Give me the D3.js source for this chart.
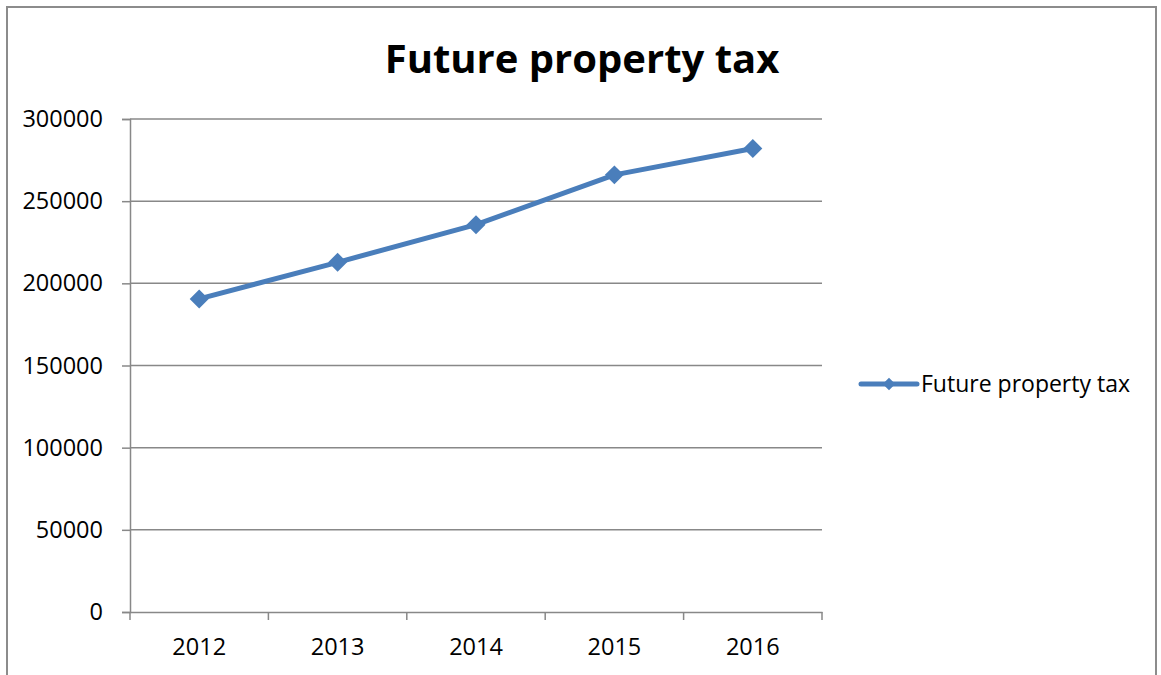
<!DOCTYPE html>
<html>
<head>
<meta charset="utf-8">
<script src="https://cdn.jsdelivr.net/npm/d3@7"></script>
<style>
  html, body { margin: 0; padding: 0; background: #fff; }
  svg { display: block; }
  text { font-family: "Open Sans", "Liberation Sans", sans-serif; fill: #000; }
</style>
</head>
<body>
<svg id="chart" width="1161" height="675"></svg>
<script>
// Yearly forecast of property tax
const years = ["2012", "2013", "2014", "2015", "2016"];
const taxValues = [190500, 212800, 235700, 266000, 282000];
const yTicks = [0, 50000, 100000, 150000, 200000, 250000, 300000];
const seriesName = "Future property tax";
const chartTitle = "Future property tax";

const svg = d3.select("#chart");
const plot = { left: 130, right: 822, top: 119, bottom: 612 };
const blue = "#4a7ebb";
const gridColor = "#888888";

// outer frame
svg.append("rect")
  .attr("x", 7).attr("y", 7)
  .attr("width", 1149).attr("height", 690)
  .attr("fill", "none").attr("stroke", "#8c8c8c").attr("stroke-width", 2);

const x = d3.scaleBand().domain(years).range([plot.left, plot.right]).padding(0);
const y = d3.scaleLinear().domain([0, 300000]).range([plot.bottom, plot.top]);

// horizontal gridlines
svg.append("g")
  .selectAll("line")
  .data(yTicks.filter(d => d > 0))
  .join("line")
  .attr("x1", plot.left).attr("x2", plot.right)
  .attr("y1", d => y(d)).attr("y2", d => y(d))
  .attr("stroke", gridColor).attr("stroke-width", 1.5);

// y axis
const yAxis = svg.append("g")
  .attr("transform", `translate(${plot.left},0)`)
  .call(d3.axisLeft(y).tickValues(yTicks).tickSize(8).tickPadding(19).tickFormat(d3.format("d")));
yAxis.select(".domain").attr("stroke", gridColor).attr("stroke-width", 1.5);
yAxis.selectAll(".tick line").attr("stroke", gridColor).attr("stroke-width", 1.5);
yAxis.selectAll(".tick text")
  .style("font-family", '"Open Sans", "Liberation Sans", sans-serif')
  .style("font-size", "23.5px").attr("fill", "#000");

// x axis with ticks at category boundaries
const xAxis = svg.append("g")
  .attr("transform", `translate(0,${plot.bottom})`)
  .call(d3.axisBottom(x).tickSize(0).tickPadding(26));
xAxis.select(".domain").attr("stroke", gridColor).attr("stroke-width", 1.5);
xAxis.selectAll(".tick text")
  .style("font-family", '"Open Sans", "Liberation Sans", sans-serif')
  .style("font-size", "23.5px").attr("fill", "#000");
const bounds = years.map(d => x(d)).concat([x(years[years.length - 1]) + x.bandwidth()]);
xAxis.selectAll(".bound")
  .data(bounds)
  .join("line")
  .attr("class", "bound")
  .attr("x1", d => d).attr("x2", d => d)
  .attr("y1", 0).attr("y2", 8)
  .attr("stroke", gridColor).attr("stroke-width", 1.5);

// series line
const cx = d => x(d) + x.bandwidth() / 2;
const line = d3.line().x((d, i) => cx(years[i])).y(d => y(d));
svg.append("path")
  .datum(taxValues)
  .attr("d", line)
  .attr("fill", "none")
  .attr("stroke", blue)
  .attr("stroke-width", 5)
  .attr("stroke-linejoin", "round");

// diamond markers
const diamond = d3.symbol().type(d3.symbolDiamond2).size(230);
svg.append("g")
  .selectAll("path")
  .data(taxValues)
  .join("path")
  .attr("d", diamond)
  .attr("transform", (d, i) => `translate(${cx(years[i])},${y(d)})`)
  .attr("fill", blue);

// title
svg.append("text")
  .attr("x", 582).attr("y", 73)
  .attr("text-anchor", "middle")
  .style("font-size", "40px").style("font-weight", "bold")
  .text(chartTitle);

// legend
const lg = svg.append("g").attr("transform", "translate(861,384)");
lg.append("line")
  .attr("x1", 0).attr("x2", 56).attr("y1", 0).attr("y2", 0)
  .attr("stroke", blue).attr("stroke-width", 5).attr("stroke-linecap", "round");
lg.append("path")
  .attr("d", d3.symbol().type(d3.symbolDiamond2).size(100))
  .attr("transform", "translate(28,0)")
  .attr("fill", blue);
lg.append("text")
  .attr("x", 60).attr("y", 8)
  .style("font-size", "23px")
  .text(seriesName);
</script>
</body>
</html>
